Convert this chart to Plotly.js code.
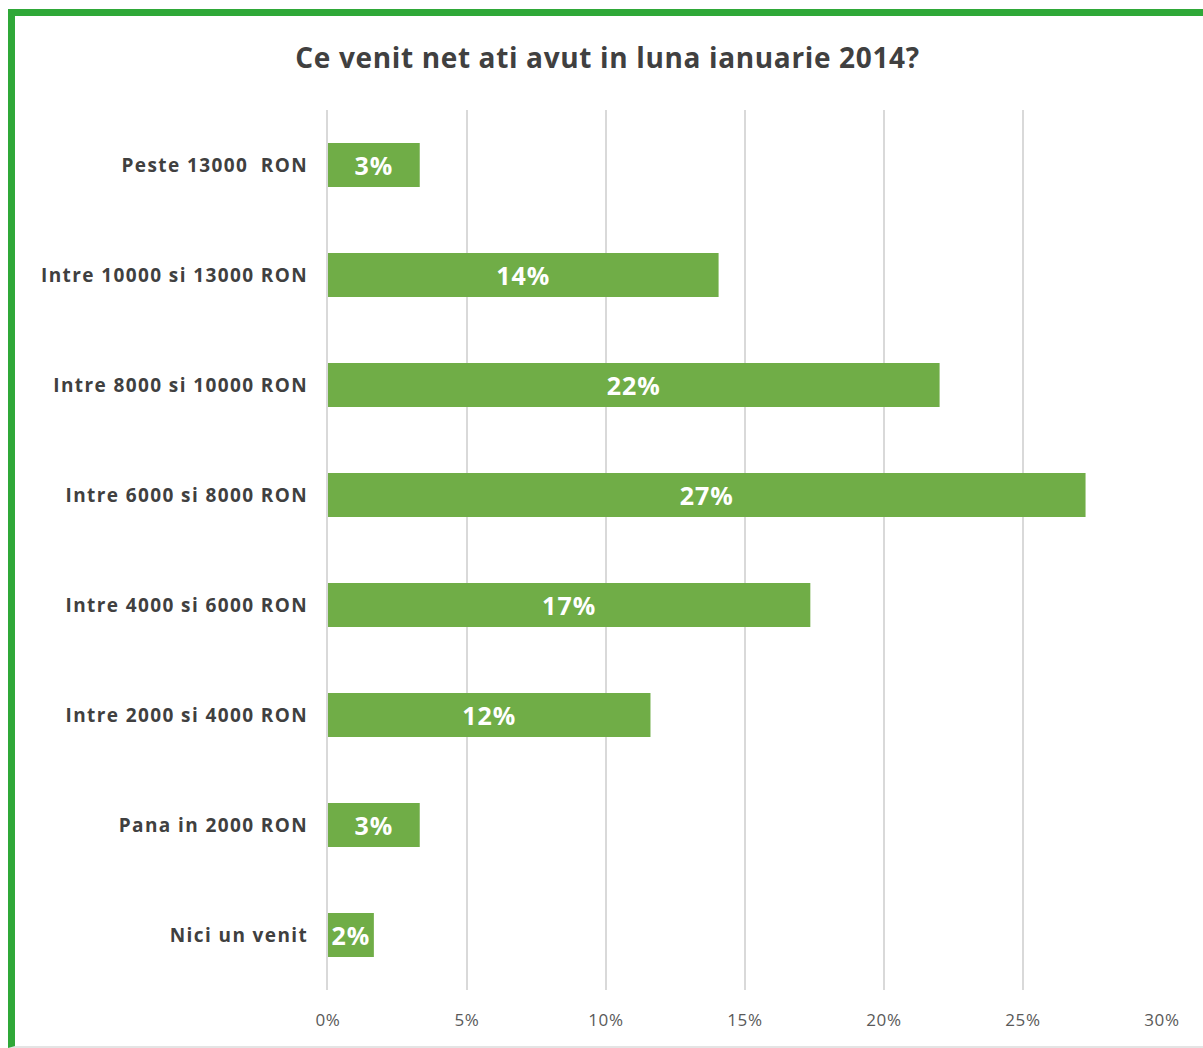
<!DOCTYPE html>
<html>
<head>
<meta charset="utf-8">
<script src="https://cdn.plot.ly/plotly-3.0.1.min.js"></script>
<style>
  html, body { margin: 0; padding: 0; background: #ffffff; }
  #wrap { position: relative; width: 1203px; height: 1048px; }
  #chart { position: absolute; left: 0; top: 0; width: 1203px; height: 1048px; }
  #frame { position: absolute; left: 8px; top: 9px; width: 1195px; height: 1039px;
           border-left: 7px solid #2fa838; border-top: 7px solid #2fa838;
           border-bottom: 2px solid #e4e4e4; pointer-events: none; box-sizing: border-box; }
  #chart .ytick text { letter-spacing: 1.4px; }
  #chart .xtick text { letter-spacing: 0.7px; }
  #chart .gtitle { letter-spacing: 0.65px; }
  #chart .bartext { letter-spacing: 1px; }
</style>
</head>
<body>
<div id="wrap">
  <div id="chart"></div>
  <div id="frame"></div>
</div>
<script>
const categories = [
  "Nici un venit",
  "Pana in 2000 RON",
  "Intre 2000 si 4000 RON",
  "Intre 4000 si 6000 RON",
  "Intre 6000 si 8000 RON",
  "Intre 8000 si 10000 RON",
  "Intre 10000 si 13000 RON",
  "Peste 13000  RON"
];
const values = [1.65, 3.3, 11.6, 17.35, 27.25, 22.0, 14.05, 3.3];
const labels = ["2%", "3%", "12%", "17%", "27%", "22%", "14%", "3%"];
const tickVals = [0, 5, 10, 15, 20, 25, 30];
const tickText = ["0%", "5%", "10%", "15%", "20%", "25%", "30%"];
const titleText = "Ce venit net ati avut in luna ianuarie 2014?";

const trace = {
  type: "bar",
  orientation: "h",
  x: values,
  y: categories,
  text: labels,
  textposition: "inside",
  insidetextanchor: "middle",
  textangle: 0,
  constraintext: "none",
  textfont: { family: "Open Sans, sans-serif", size: 25, color: "#ffffff", weight: "bold" },
  marker: { color: "#70ad47" },
  hoverinfo: "none"
};

const layout = {
  width: 1203,
  height: 1048,
  margin: { l: 328, r: 41, t: 110, b: 58 },
  paper_bgcolor: "#ffffff",
  plot_bgcolor: "#ffffff",
  bargap: 0.6,
  showlegend: false,
  title: {
    text: titleText,
    x: 0.505,
    xanchor: "center",
    y: 0.944,
    yanchor: "middle",
    font: { family: "Open Sans, sans-serif", size: 28, color: "#404040", weight: "bold" }
  },
  xaxis: {
    range: [0, 30],
    tickvals: tickVals,
    ticktext: tickText,
    showgrid: true,
    gridcolor: "#d9d9d9",
    gridwidth: 2,
    zeroline: false,
    showline: false,
    ticks: "",
    ticklabelstandoff: 18,
    tickfont: { family: "Open Sans, sans-serif", size: 17, color: "#595959" },
    fixedrange: true
  },
  yaxis: {
    type: "category",
    categoryorder: "array",
    categoryarray: categories,
    range: [-0.5, 7.5],
    showgrid: false,
    zeroline: false,
    showline: true,
    linecolor: "#d9d9d9",
    linewidth: 2,
    ticks: "",
    ticklabelstandoff: 14,
    tickfont: { family: "Open Sans, sans-serif", size: 19, color: "#404040", weight: "bold" },
    fixedrange: true
  }
};

Plotly.newPlot("chart", [trace], layout, { displayModeBar: false, staticPlot: true });
</script>
</body>
</html>
